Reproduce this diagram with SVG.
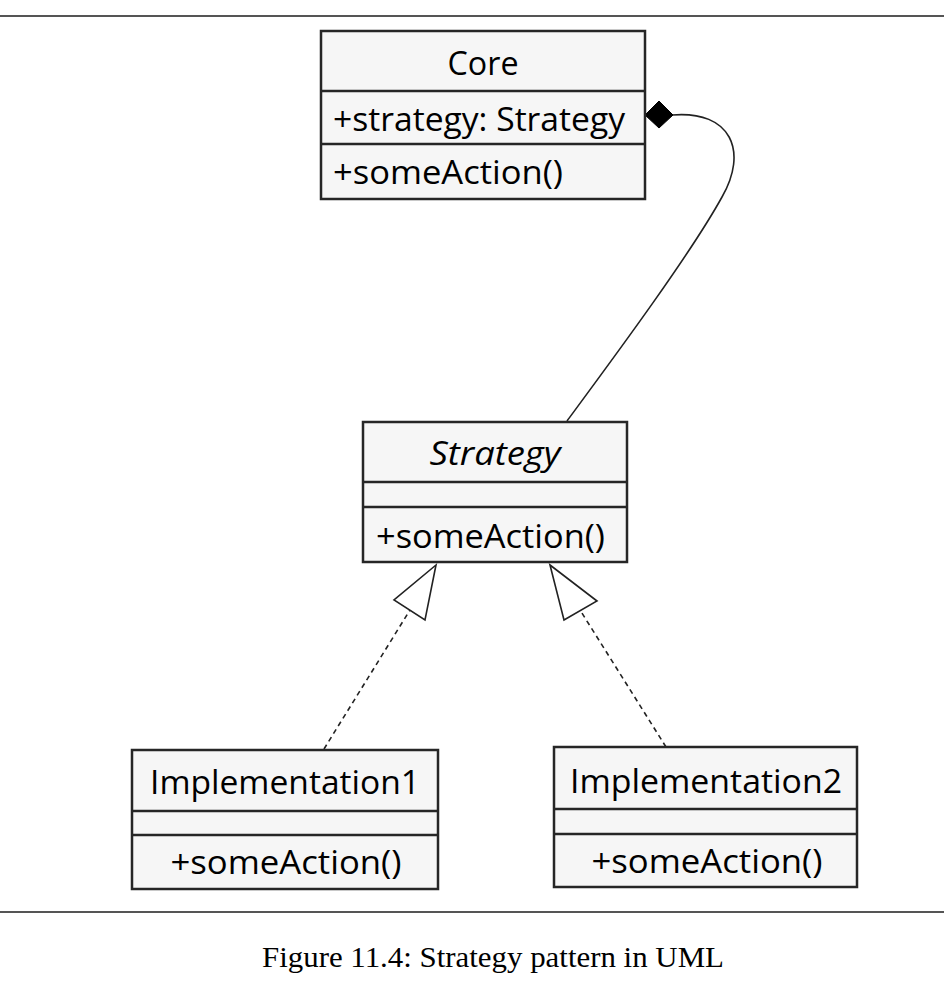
<svg xmlns="http://www.w3.org/2000/svg" width="944" height="988" viewBox="0 0 944 988">
<style>
.box{fill:#f6f6f6;stroke:#262626;stroke-width:2.5}
.div{stroke:#262626;stroke-width:2.5}
.t{font-family:"Open Sans","Noto Sans","DejaVu Sans",sans-serif;font-size:32px;fill:#000}
.c{text-anchor:middle}
.rule{stroke:#555;stroke-width:2}
.conn{fill:none;stroke:#222;stroke-width:1.6}
.dash{fill:none;stroke:#222;stroke-width:1.6;stroke-dasharray:5 4}
.tri{fill:#fff;stroke:#222;stroke-width:1.6}
.cap{font-family:"Liberation Serif","DejaVu Serif",serif;font-size:30px;fill:#000}
</style>
<rect x="0" y="0" width="944" height="988" fill="#fff"/>
<line class="rule" x1="0" y1="16" x2="944" y2="16"/>
<line class="rule" x1="0" y1="912" x2="944" y2="912"/>

<g id="connectors">
  <path class="conn" d="M672,115 C732,110 748,152 722,197 C690,255 612,360 567,421"/>
  <polygon points="645,115 659,101 673,115 659,128" fill="#000" stroke="#000" stroke-width="1"/>
  <line class="dash" x1="324" y1="749" x2="410" y2="610"/>
  <polygon class="tri" points="436,565 394,600 425,620"/>
  <line class="dash" x1="666" y1="747" x2="580" y2="610"/>
  <polygon class="tri" points="550,565 597,601 564,620"/>
</g>

<g id="core">
  <rect class="box" x="321" y="31" width="324" height="168"/>
  <line class="div" x1="321" y1="91" x2="645" y2="91"/>
  <line class="div" x1="321" y1="144" x2="645" y2="144"/>
  <text class="t c" x="483" y="75" textLength="71" lengthAdjust="spacingAndGlyphs">Core</text>
  <text class="t" x="333" y="131" textLength="292" lengthAdjust="spacingAndGlyphs">+strategy: Strategy</text>
  <text class="t" x="333" y="184" textLength="230" lengthAdjust="spacingAndGlyphs">+someAction()</text>
</g>

<g id="strategy">
  <rect class="box" x="363" y="422" width="264" height="140"/>
  <line class="div" x1="363" y1="482" x2="627" y2="482"/>
  <line class="div" x1="363" y1="507" x2="627" y2="507"/>
  <text class="t c" x="495" y="465" font-style="italic" textLength="131" lengthAdjust="spacingAndGlyphs">Strategy</text>
  <text class="t" x="376" y="548" textLength="229" lengthAdjust="spacingAndGlyphs">+someAction()</text>
</g>

<g id="implementation1">
  <rect class="box" x="132" y="750" width="306" height="139"/>
  <line class="div" x1="132" y1="811" x2="438" y2="811"/>
  <line class="div" x1="132" y1="835" x2="438" y2="835"/>
  <text class="t c" x="285" y="794" textLength="270" lengthAdjust="spacingAndGlyphs">Implementation1</text>
  <text class="t c" x="286" y="874" textLength="231" lengthAdjust="spacingAndGlyphs">+someAction()</text>
</g>

<g id="implementation2">
  <rect class="box" x="554" y="747" width="303" height="140"/>
  <line class="div" x1="554" y1="809" x2="857" y2="809"/>
  <line class="div" x1="554" y1="834" x2="857" y2="834"/>
  <text class="t c" x="706" y="793" textLength="272" lengthAdjust="spacingAndGlyphs">Implementation2</text>
  <text class="t c" x="707" y="873" textLength="231" lengthAdjust="spacingAndGlyphs">+someAction()</text>
</g>

<text class="cap" x="262" y="967" textLength="462" lengthAdjust="spacingAndGlyphs">Figure 11.4: Strategy pattern in UML</text>
</svg>
